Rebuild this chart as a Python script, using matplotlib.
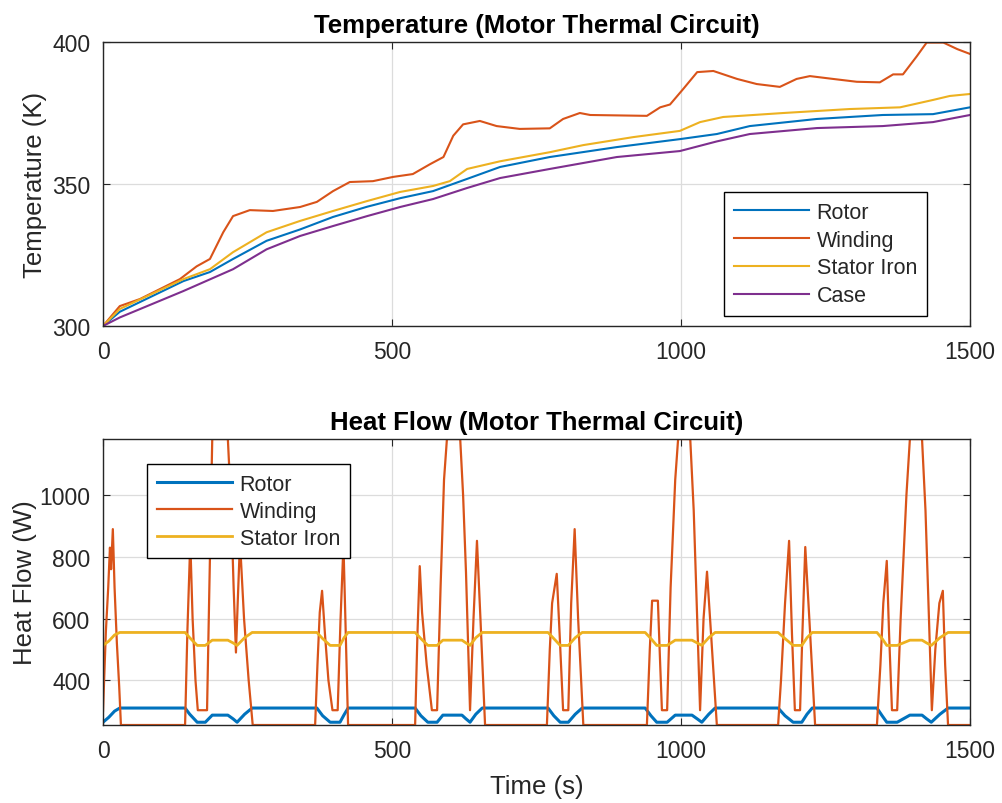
import matplotlib
matplotlib.use("Agg")
import matplotlib.pyplot as plt

plt.rcParams['font.family'] = ['Liberation Sans', 'DejaVu Sans']

# MATLAB default line colours
c_rotor = '#0072BD'
c_wind = '#D95319'
c_stat = '#EDB120'
c_case = '#7E2F8E'

# ---- temperature (K) ----
wind_t = [0, 29, 64, 133, 162, 185, 208, 225, 254, 294, 341, 370, 398, 427, 467, 502,
          536, 566, 589, 606, 623, 652, 681, 721, 773, 796, 825, 843, 941, 964, 981,
          1004, 1028, 1056, 1097, 1131, 1171, 1200, 1223, 1263, 1304, 1344, 1367,
          1384, 1408, 1425, 1454, 1478, 1500]
wind_T = [300, 307, 309.5, 316.5, 321, 323.6, 333, 338.7, 340.8, 340.5, 341.9, 343.7,
          347.5, 350.7, 351, 352.5, 353.5, 357, 359.5, 367, 371, 372.2, 370.4, 369.4,
          369.6, 372.9, 375, 374.3, 374, 377, 378, 383.5, 389.4, 389.8, 387, 385.2,
          384.2, 387, 388, 387, 386, 385.8, 388.6, 388.6, 395, 399.8, 399.8, 397.5, 395.8]

stat_t = [0, 29, 139, 185, 225, 283, 341, 398, 457, 514, 571, 600, 630, 687, 773, 831,
          917, 998, 1033, 1073, 1177, 1292, 1379, 1436, 1465, 1500]
stat_T = [300, 306, 316.5, 320, 326, 333, 337, 340.5, 344, 347.2, 349.3, 351, 355.3,
          358, 361.2, 363.7, 366.5, 368.7, 371.8, 373.6, 375, 376.4, 377, 379.6, 381, 381.7]

rot_t = [0, 29, 139, 185, 225, 283, 341, 398, 457, 514, 571, 630, 687, 773, 889, 998,
         1062, 1119, 1235, 1349, 1436, 1500]
rot_T = [300, 305, 315.8, 319, 323.6, 330, 334, 338.4, 342, 345, 347.5, 351.8, 356,
         359.5, 363, 365.8, 367.6, 370.4, 372.9, 374.3, 374.6, 377]

case_t = [0, 29, 139, 225, 283, 341, 398, 457, 514, 571, 630, 687, 773, 889, 998, 1062,
          1119, 1235, 1349, 1436, 1500]
case_T = [300, 303, 312.3, 320, 327, 331.7, 335.2, 338.7, 341.9, 344.7, 348.6, 352.1,
          355.3, 359.5, 361.6, 365, 367.6, 369.7, 370.4, 371.8, 374.3]

# ---- heat flow (W) ----
hw_t = [0, 5, 9, 12, 14, 17, 20, 24, 28, 31,
        142, 146, 151, 155, 160, 164, 180, 184, 189, 216, 222, 226, 230, 233, 237, 244, 252, 259,
        367, 371, 375, 379, 384, 390, 397, 406, 411, 416, 420, 424,
        540, 544, 548, 552, 560, 569, 578, 584, 590, 595, 618, 623, 628, 635, 641, 647, 653, 661,
        768, 773, 777, 785, 790, 796, 805, 810, 816, 822, 831,
        941, 946, 950, 960, 964, 967, 976, 982, 990, 995, 1016, 1022, 1028, 1033, 1039, 1045, 1052, 1062,
        1168, 1173, 1180, 1187, 1192, 1197, 1206, 1210, 1215, 1222, 1232,
        1339, 1345, 1350, 1356, 1360, 1365, 1374, 1380, 1390, 1396, 1417, 1423, 1429, 1434, 1440,
        1447, 1453, 1457, 1462, 1500]
hw_W = [300, 560, 700, 830, 760, 890, 700, 520, 380, 255,
        255, 560, 850, 600, 400, 303, 303, 700, 1182, 1182, 950, 700, 490, 650, 850, 600, 400, 255,
        255, 450, 620, 690, 550, 400, 303, 303, 600, 840, 550, 255,
        255, 550, 770, 620, 450, 303, 303, 700, 1050, 1182, 1182, 1000, 750, 303, 600, 852, 600, 255,
        255, 500, 650, 745, 550, 303, 303, 650, 890, 600, 255,
        255, 500, 658, 658, 450, 303, 303, 700, 1050, 1182, 1182, 950, 600, 303, 600, 752, 550, 255,
        255, 400, 650, 852, 550, 303, 303, 550, 832, 600, 255,
        255, 450, 650, 787, 550, 303, 303, 600, 1000, 1182, 1182, 950, 600, 303, 500,
        650, 690, 450, 255, 255]

hr_t = [0, 10, 20, 29, 142, 150, 163, 177, 189, 216, 225, 232, 245, 258,
        370, 380, 393, 410, 417, 424,
        540, 550, 562, 578, 588, 621, 628, 635, 645, 656,
        770, 780, 791, 805, 817, 829,
        938, 948, 958, 976, 990, 1019, 1028, 1036, 1048, 1059,
        1168, 1180, 1194, 1209, 1218, 1227,
        1339, 1348, 1356, 1374, 1396, 1417, 1425, 1433, 1448, 1462, 1500]
hr_W = [264, 280, 300, 310, 310, 290, 264, 264, 287, 287, 275, 264, 290, 310,
        310, 285, 264, 264, 288, 310,
        310, 285, 264, 264, 287, 287, 275, 264, 290, 310,
        310, 285, 264, 264, 290, 310,
        310, 285, 264, 264, 287, 287, 275, 264, 290, 310,
        310, 285, 264, 264, 290, 310,
        310, 285, 264, 264, 287, 287, 275, 264, 290, 310, 310]
hs_W = [513, 527, 547, 555, 555, 538, 513, 513, 530, 530, 521, 513, 538, 555,
        555, 535, 513, 513, 538, 555,
        555, 535, 513, 513, 530, 530, 521, 513, 538, 555,
        555, 535, 513, 513, 538, 555,
        555, 535, 513, 513, 530, 530, 521, 513, 538, 555,
        555, 535, 513, 513, 538, 555,
        555, 535, 513, 513, 530, 530, 521, 513, 538, 555, 555]

fig = plt.figure(figsize=(10.03, 8.04), dpi=100)
ax1 = fig.add_axes([0.1027, 0.5933, 0.8644, 0.3532])
ax2 = fig.add_axes([0.1027, 0.0970, 0.8644, 0.3557])

lw = 1.5
ax1.plot(rot_t, rot_T, color=c_rotor, lw=lw, label='Rotor')
ax1.plot(wind_t, wind_T, color=c_wind, lw=lw, label='Winding')
ax1.plot(stat_t, stat_T, color=c_stat, lw=lw, label='Stator Iron')
ax1.plot(case_t, case_T, color=c_case, lw=lw, label='Case')
ax1.set_xlim(0, 1500)
ax1.set_ylim(300, 400)
ax1.set_yticks([300, 350, 400])
ax1.set_ylabel('Temperature (K)')
ax1.yaxis.set_label_coords(-0.0646, 0.5)
ax1.set_title('Temperature (Motor Thermal Circuit)', fontweight='bold', fontsize=18.5, pad=7)
leg1 = ax1.legend(loc='lower right', bbox_to_anchor=(0.950, 0.035), borderaxespad=0,
                  handlelength=3.5, handletextpad=0.35, fancybox=False, edgecolor='black',
                  framealpha=1, labelspacing=0.32, fontsize=15.5, borderpad=0.45)

ax2.plot(hr_t, hr_W, color=c_rotor, lw=2.2, label='Rotor')
ax2.plot(hw_t, hw_W, color=c_wind, lw=1.6, label='Winding')
ax2.plot(hr_t, hs_W, color=c_stat, lw=2.0, label='Stator Iron')
ax2.set_xlim(0, 1500)
ax2.set_ylim(255, 1182)
ax2.set_yticks([400, 600, 800, 1000])
ax2.set_ylabel('Heat Flow (W)')
ax2.yaxis.set_label_coords(-0.0760, 0.5)
ax2.set_xlabel('Time (s)', labelpad=8.5)
ax2.set_title('Heat Flow (Motor Thermal Circuit)', fontweight='bold', fontsize=18.5, pad=7)
leg2 = ax2.legend(loc='upper left', bbox_to_anchor=(0.0507, 0.9126), borderaxespad=0,
                  handlelength=3.5, handletextpad=0.35, fancybox=False, edgecolor='black',
                  framealpha=1, labelspacing=0.28, fontsize=15.5, borderpad=0.45)

for ax in (ax1, ax2):
    ax.set_xticks([0, 500, 1000, 1500])
    ax.grid(True, color='#dcdcdc', lw=0.9)
    ax.set_axisbelow(True)
    ax.tick_params(direction='in', top=True, right=True, labelsize=16.5, colors='#262626',
                   length=5)
    ax.tick_params(axis='x', pad=10)
    ax.tick_params(axis='y', pad=9)
    ax.xaxis.label.set_size(18.5)
    ax.yaxis.label.set_size(18.5)
    ax.xaxis.label.set_color('#262626')
    ax.yaxis.label.set_color('#262626')
    for s in ax.spines.values():
        s.set_color('#262626')
        s.set_linewidth(1.0)

for leg in (leg1, leg2):
    leg.get_frame().set_linewidth(1.0)
    for t in leg.get_texts():
        t.set_color('#262626')

fig.savefig('out.png', dpi=100)
